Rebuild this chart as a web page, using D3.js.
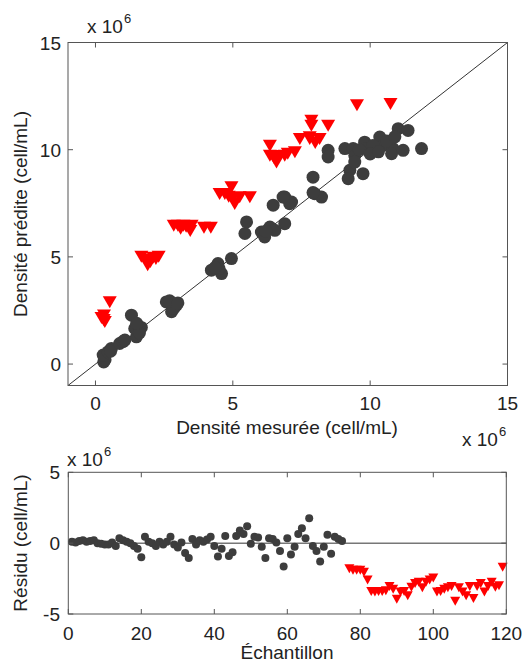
<!DOCTYPE html>
<html><head><meta charset="utf-8">
<script src="https://cdn.jsdelivr.net/npm/d3@7"></script>
<style>
body{margin:0;background:#fff;}
text{font-family:"Liberation Sans",Arial,sans-serif;fill:#222;}
</style></head>
<body><svg id="c" width="526" height="664"></svg>
<script>
// Top scatter: measured (x) vs predicted (y), units of 1e6 cell/mL
const calibMeasured = [0.3,0.35,0.28,0.46,0.58,0.55,0.88,1.0,1.07,1.31,1.49,1.55,1.67,1.43,1.6,1.5,
  2.58,2.77,2.95,2.77,2.85,2.7,3.0,
  4.22,4.46,4.59,4.95,4.5,4.35,
  5.5,5.44,6.04,6.16,6.35,6.53,6.2,6.47,6.89,
  6.89,7.14,7.07,6.83,
  7.92,7.98,8.23,7.92,
  8.47,8.47,9.08,9.38,9.44,9.8,9.87,10.35,10.23,10.47,10.83,10.78,11.02,11.38,11.2,11.87,9.26,9.2,9.74,9.44,10.1,10.6,9.6,10.0,10.9,10.3];
const calibPredicted = [0.1,0.2,0.42,0.57,0.73,0.6,0.96,1.05,1.12,2.28,1.27,1.58,1.71,1.66,1.45,1.9,
  2.9,2.83,2.75,2.44,2.6,2.95,2.85,
  4.38,4.69,4.22,4.92,4.45,4.5,
  6.63,6.09,6.16,5.93,6.39,6.24,6.2,7.41,6.55,
  7.79,7.56,7.48,7.79,
  8.72,7.95,7.79,8.0,
  9.97,9.66,10.05,10.05,9.73,10.35,10.05,10.59,10.05,10.2,10.05,9.81,10.98,10.9,9.97,10.05,9.04,8.65,8.88,9.42,10.2,10.4,10.0,9.8,10.6,9.9];
const valMeasured = [0.52,0.31,0.34,0.22,0.3,
  1.67,1.85,2.0,2.2,2.3,1.9,2.1,
  2.85,3.0,3.1,3.2,3.3,3.45,3.5,3.95,4.2,
  4.52,4.71,4.95,5.07,5.25,5.62,5.0,4.85,
  6.35,6.35,6.59,6.5,6.7,6.89,7.0,7.26,7.44,7.8,7.86,7.86,8.47,7.8,8.16,8.0,9.52,10.74];
const valPredicted = [2.98,2.36,2.05,2.24,2.15,
  5.1,4.95,4.85,5.0,5.1,4.7,5.05,
  6.55,6.55,6.4,6.55,6.5,6.3,6.55,6.45,6.45,
  8.03,8.03,8.34,7.56,7.87,7.87,7.8,7.9,
  10.28,9.81,9.5,9.7,9.8,9.81,9.9,9.97,10.59,10.67,11.21,11.44,11.21,10.59,10.59,10.4,12.17,12.22];
// Bottom: residuals (1e6 cell/mL) per sample
const residBlack = [0.1,0.05,0.15,0.2,0.1,0.15,0.2,0,-0.05,-0.1,-0.1,0.05,-0.2,0.35,0.2,0.1,0,-0.2,-0.4,-1.0,0.45,0.1,0,-0.2,0.1,-0.1,0.1,0.45,-0.1,-0.3,0.05,-0.7,-1.05,0.3,-0.1,0.2,0.1,0.25,0.45,-0.2,-0.95,-0.4,0.5,-0.9,-0.65,0.5,0.9,0.65,1.2,-0.05,0.45,0.4,-0.25,-1.05,0.35,0.3,0.05,-0.55,-1.65,0.35,-0.8,-0.25,0.65,1.05,0.35,1.75,-0.2,-0.55,-1.3,-0.25,0.6,-0.75,0.45,0.3,0.15];
const residRed = [-1.7,-1.8,-1.8,-1.8,-1.95,-2.5,-3.3,-3.35,-3.3,-3.3,-3.25,-2.95,-3.15,-3.85,-3.35,-3.3,-3.6,-3.0,-2.75,-2.65,-3.05,-2.65,-2.5,-2.35,-3.35,-3.3,-3.15,-3.05,-2.95,-4.0,-3.05,-3.35,-3.6,-2.95,-3.8,-2.95,-2.75,-3.35,-2.95,-2.65,-3.0,-2.9,-1.6];
const topTicks = [0,5,10,15];
const sampleTicks = [0,20,40,60,80,100,120];
const residTicks = [-5,0,5];

const svg = d3.select("#c");
const FS = 19;
const dark = "#3d3d3d", red = "#ff0000", axisCol = "#555";

function tri(cx, cy, w, h){
  return `M${cx-w/2},${cy-h/3}L${cx+w/2},${cy-h/3}L${cx},${cy+2*h/3}Z`;
}
function boxAxes(g, x, y, xt, yt){
  const [x0,x1]=x.range(), [y0,y1]=y.range();
  g.append("rect").attr("x",x0).attr("y",y1).attr("width",x1-x0).attr("height",y0-y1)
   .attr("fill","none").attr("stroke",axisCol).attr("stroke-width",1);
  const tl=5;
  xt.forEach(t=>{
    const px=x(t);
    g.append("line").attr("x1",px).attr("x2",px).attr("y1",y0).attr("y2",y0-tl).attr("stroke",axisCol);
    g.append("line").attr("x1",px).attr("x2",px).attr("y1",y1).attr("y2",y1+tl).attr("stroke",axisCol);
  });
  yt.forEach(t=>{
    const py=y(t);
    g.append("line").attr("x1",x0).attr("x2",x0+tl).attr("y1",py).attr("y2",py).attr("stroke",axisCol);
    g.append("line").attr("x1",x1).attr("x2",x1-tl).attr("y1",py).attr("y2",py).attr("stroke",axisCol);
  });
}

// ---------- Top plot ----------
const xT = d3.scaleLinear().domain([-1,15]).range([68,507.5]);
const yT = d3.scaleLinear().domain([-1,15]).range([385.5,42.5]);
const gT = svg.append("g");
gT.append("line").attr("x1",xT(-1)).attr("y1",yT(-1)).attr("x2",xT(15)).attr("y2",yT(15))
  .attr("stroke","#333").attr("stroke-width",1);
gT.selectAll("circle.cal").data(calibMeasured).enter().append("circle")
  .attr("cx",(d)=>xT(d)).attr("cy",(d,i)=>yT(calibPredicted[i])).attr("r",6.5).attr("fill",dark);
gT.selectAll("path.val").data(valMeasured).enter().append("path")
  .attr("d",(d,i)=>tri(xT(d),yT(valPredicted[i]),14,12)).attr("fill",red);
boxAxes(gT,xT,yT,topTicks,topTicks);
topTicks.forEach(t=>{
  gT.append("text").attr("x",xT(t)).attr("y",yT(-1)+24).attr("text-anchor","middle").attr("font-size",FS).text(t);
  gT.append("text").attr("x",xT(-1)-7).attr("y",yT(t)+7).attr("text-anchor","end").attr("font-size",FS).text(t);
});
gT.append("text").attr("x",287).attr("y",434).attr("text-anchor","middle").attr("font-size",FS).text("Densité mesurée (cell/mL)");
gT.append("text").attr("transform","translate(27,214) rotate(-90)").attr("text-anchor","middle").attr("font-size",FS).text("Densité prédite (cell/mL)");
function expo(x,y){
  svg.append("text").attr("x",x).attr("y",y).attr("font-size",FS).text("x 10");
  svg.append("text").attr("x",x+37).attr("y",y-10).attr("font-size",13).text("6");
}
expo(87,33);
expo(462,446);

// ---------- Bottom plot ----------
const xB = d3.scaleLinear().domain([0,120]).range([68.3,506.3]);
const yB = d3.scaleLinear().domain([-5,5]).range([614,472.3]);
const gB = svg.append("g");
gB.append("line").attr("x1",xB(0)).attr("x2",xB(120)).attr("y1",yB(0)).attr("y2",yB(0))
  .attr("stroke","#777").attr("stroke-width",1.5);
gB.selectAll("circle").data(residBlack).enter().append("circle")
  .attr("cx",(d,i)=>xB(i+1)).attr("cy",d=>yB(d)).attr("r",4).attr("fill",dark);
gB.selectAll("path.r").data(residRed).enter().append("path")
  .attr("d",(d,i)=>tri(xB(i+77),yB(d),10,9)).attr("fill",red);
boxAxes(gB,xB,yB,sampleTicks,residTicks);
sampleTicks.forEach(t=>{
  gB.append("text").attr("x",xB(t)).attr("y",640).attr("text-anchor","middle").attr("font-size",FS).text(t);
});
residTicks.forEach(t=>{
  gB.append("text").attr("x",60).attr("y",yB(t)+7).attr("text-anchor","end").attr("font-size",FS).text(t);
});
gB.append("text").attr("x",287).attr("y",659).attr("text-anchor","middle").attr("font-size",FS).text("Échantillon");
gB.append("text").attr("transform","translate(27,543) rotate(-90)").attr("text-anchor","middle").attr("font-size",FS).text("Résidu (cell/mL)");
expo(67,466);
</script></body></html>
